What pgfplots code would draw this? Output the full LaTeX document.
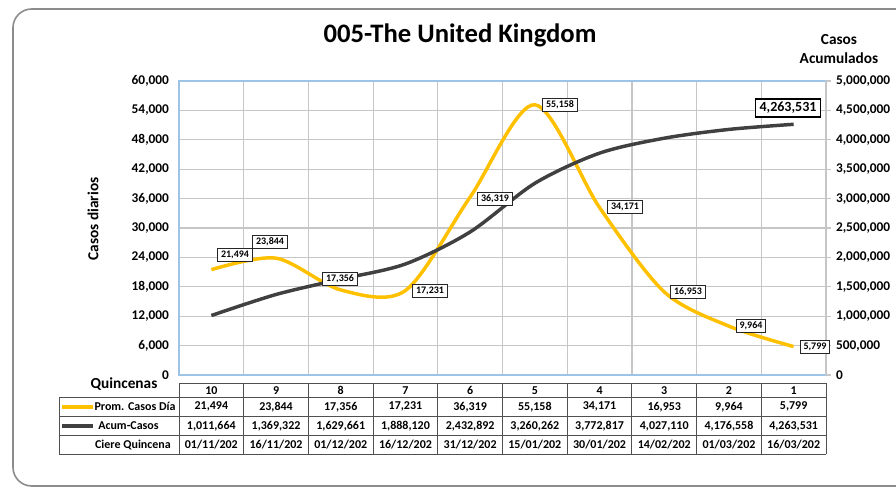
\documentclass[border=0pt]{standalone}
\usepackage{pgfplots}
\pgfplotsset{compat=1.18}
\usepackage{fontspec}
\setmainfont{Carlito}
\definecolor{cyell}{HTML}{FFC000}
\definecolor{cdark}{HTML}{404040}
\definecolor{cgrid}{HTML}{C6C6C6}
\definecolor{cblue}{HTML}{9DC3E6}
\definecolor{cframe}{HTML}{8C8C8C}
\definecolor{ctab}{HTML}{505050}
\begin{document}
\begin{tikzpicture}
\useasboundingbox (0,0) rectangle (672pt,366pt);
% left axis: daily cases
\begin{axis}[at={(134.25pt,84.75pt)}, anchor=south west, scale only axis,
  width=485.25pt, height=220.5pt,
  xmin=-0.5, xmax=9.5, ymin=0, ymax=60000,
  xtick={0.5,1.5,2.5,3.5,4.5,5.5,6.5,7.5,8.5}, xticklabels={},
  ytick={0,6000,12000,18000,24000,30000,36000,42000,48000,54000,60000},
  grid=major, major grid style={cgrid, line width=0.9pt},
  major tick length=0pt,
  axis line style={cblue, line width=0.8pt},
  scaled y ticks=false,
  yticklabel style={font=\bfseries\fontsize{10}{12}\selectfont, xshift=-4pt},
  /pgf/number format/.cd, fixed, 1000 sep={,}, assume math mode=true]
\addplot[cyell, line width=2.6pt, smooth, tension=0.5] coordinates {
 (0,21494) (1,23844) (2,17356) (3,17231) (4,36319) (5,55158) (6,34171) (7,16953) (8,9964) (9,5799)};
\end{axis}
% right axis: cumulative cases
\begin{axis}[at={(134.25pt,84.75pt)}, anchor=south west, scale only axis,
  width=485.25pt, height=220.5pt,
  xmin=-0.5, xmax=9.5, ymin=0, ymax=5000000,
  axis x line=none, axis y line*=right,
  ytick={0,500000,1000000,1500000,2000000,2500000,3000000,3500000,4000000,4500000,5000000},
  tick align=outside, major tick length=4pt,
  axis line style={cgrid, line width=0.9pt},
  tick style={cgrid, line width=0.8pt},
  scaled y ticks=false,
  yticklabel style={font=\bfseries\fontsize{10}{12}\selectfont, anchor=west},
  /pgf/number format/.cd, fixed, 1000 sep={,}, assume math mode=true]
\addplot[cdark, line width=2.6pt, smooth, tension=0.5] coordinates {
 (0,1011664) (1,1369322) (2,1629661) (3,1888120) (4,2432892) (5,3260262) (6,3772817) (7,4027110) (8,4176558) (9,4263531)};
\end{axis}
\begin{scope}[shift={(0,366pt)}, x=0.75pt, y=-0.75pt]
 % outer frame
 \draw[cframe, line width=1.2pt, rounded corners=14pt] (910,9) -- (13,9) -- (13,486) -- (910,486);
 % titles
 \node[font=\bfseries\fontsize{20}{24}\selectfont] at (460,35) {005-The United Kingdom};
 \node[rotate=90, font=\bfseries\fontsize{11.5}{14}\selectfont] at (93,219) {Casos diarios};
 \node[font=\bfseries\fontsize{11.5}{14}\selectfont] at (839,40) {Casos};
 \node[font=\bfseries\fontsize{11.5}{14}\selectfont] at (839,58) {Acumulados};
 \node[font=\bfseries\fontsize{11.5}{14}\selectfont] at (124,384) {Quincenas};
 % data labels
 \tikzset{lbl/.style={draw=black!85, fill=white, line width=0.5pt, inner xsep=2.5pt, inner ysep=2pt, font=\bfseries\fontsize{7.5}{9}\selectfont}}
 \node[lbl] at (235,255) {21,494};
 \node[lbl] at (270,242) {23,844};
 \node[lbl] at (340,279) {17,356};
 \node[lbl] at (430,291) {17,231};
 \node[lbl] at (495,199) {36,319};
 \node[lbl] at (560,105) {55,158};
 \node[lbl] at (625,207) {34,171};
 \node[lbl] at (688,292) {16,953};
 \node[lbl] at (751,326) {9,964};
 \node[lbl] at (815,347) {5,799};
 \node[draw=black, fill=white, line width=1pt, inner xsep=3pt, inner ysep=2.5pt, font=\bfseries\fontsize{10.5}{12}\selectfont] at (788,108) {4,263,531};
 % table
 \begin{scope}[ctab, line width=0.7pt]
  \draw (179,383.3) -- (826,383.3);
  \draw (59,397.3) -- (826,397.3);
  \draw (59,416.3) -- (826,416.3);
  \draw (59,435.7) -- (826,435.7);
  \draw[line width=1pt] (59,454.3) -- (826,454.3);
  \draw (59,397.3) -- (59,454.3);
  \foreach \k in {0,...,10} {\draw ({179+64.7*\k},383.3) -- ({179+64.7*\k},454.3);}
 \end{scope}
 \begin{scope}[font=\bfseries\fontsize{9}{11}\selectfont]
  \foreach \v [count=\i from 0] in {10,9,8,7,6,5,4,3,2,1}
   {\node at ({179+64.7*(\i+0.5)},390.3) {\v};}
  \foreach \v [count=\i from 0] in {{21,494},{23,844},{17,356},{17,231},{36,319},{55,158},{34,171},{16,953},{9,964},{5,799}}
   {\node at ({179+64.7*(\i+0.5)},406.8) {\v};}
  \foreach \v [count=\i from 0] in {{1,011,664},{1,369,322},{1,629,661},{1,888,120},{2,432,892},{3,260,262},{3,772,817},{4,027,110},{4,176,558},{4,263,531}}
   {\node at ({179+64.7*(\i+0.5)},426) {\v};}
  \foreach \v [count=\i from 0] in {01/11/202,16/11/202,01/12/202,16/12/202,31/12/202,15/01/202,30/01/202,14/02/202,01/03/202,16/03/202}
   {\node at ({179+64.7*(\i+0.5)},445) {\v};}
  \draw[cyell, line width=2.4pt] (62,407) -- (93,407);
  \node at (135,406.8) {Prom. Casos Día};
  \draw[cdark, line width=2.4pt] (62,426) -- (93,426);
  \node at (128.5,426) {Acum-Casos};
  \node at (133,445) {Ciere Quincena};
 \end{scope}
\end{scope}
\end{tikzpicture}
\end{document}
